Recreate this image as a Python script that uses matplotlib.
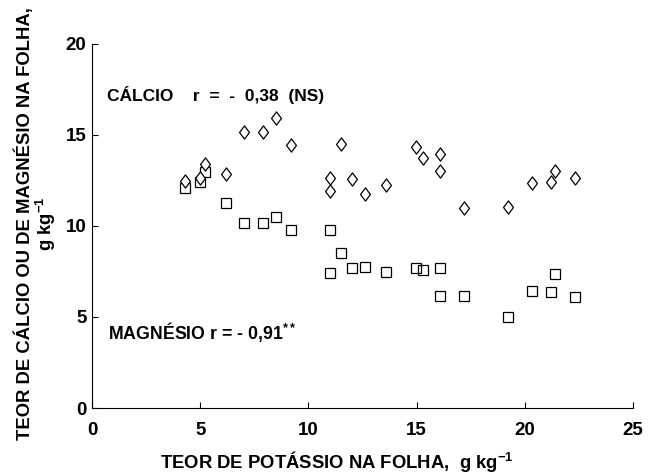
import matplotlib
matplotlib.use("Agg")
import matplotlib.pyplot as plt
from matplotlib.path import Path

# leaf potassium (x), calcium and magnesium (y), g/kg
potassio = [4.3, 5.0, 5.2, 6.2, 7.0, 7.9, 8.5, 9.2, 11.0, 11.0, 11.5, 12.0,
            12.6, 13.6, 14.95, 15.3, 16.1, 16.1, 17.2, 19.2, 20.35, 21.2, 21.4, 22.3]
calcio = [12.45, 12.6, 13.4, 12.85, 15.15, 15.15, 15.9, 14.45, 12.6, 11.9, 14.5, 12.55,
          11.75, 12.25, 14.3, 13.7, 13.95, 13.0, 11.0, 11.05, 12.35, 12.4, 13.0, 12.65]
magnesio_k = [4.3, 5.0, 5.2, 6.2, 7.0, 7.9, 8.5, 9.2, 11.0, 11.0, 11.5, 12.0,
              12.6, 13.6, 14.95, 15.3, 16.1, 16.1, 17.2, 19.2, 20.35, 21.2, 21.4, 22.3]
magnesio = [12.05, 12.4, 12.95, 11.25, 10.15, 10.15, 10.5, 9.75, 9.8, 7.4, 8.5, 7.7,
            7.75, 7.45, 7.7, 7.6, 7.7, 6.15, 6.15, 5.0, 6.45, 6.35, 7.35, 6.1]

xticks = [0, 5, 10, 15, 20, 25]
yticks = [0, 5, 10, 15, 20]

plt.rcParams['font.family'] = ['Liberation Sans', 'DejaVu Sans']
plt.rcParams['font.weight'] = 'bold'
plt.rcParams['mathtext.fontset'] = 'custom'
plt.rcParams['mathtext.rm'] = 'Liberation Sans:bold'
plt.rcParams['mathtext.it'] = 'Liberation Sans:bold'
plt.rcParams['mathtext.bf'] = 'Liberation Sans:bold'

diamond = Path([(0, 1), (0.75, 0), (0, -1), (-0.75, 0), (0, 1)],
               [Path.MOVETO, Path.LINETO, Path.LINETO, Path.LINETO, Path.CLOSEPOLY])

fig = plt.figure(figsize=(6.48, 4.74), dpi=100)
ax = fig.add_axes([0.142, 0.139, 0.835, 0.769])

ax.plot(potassio, calcio, linestyle='none', marker=diamond, markersize=9.5,
        markerfacecolor='white', markeredgecolor='black', markeredgewidth=0.9, zorder=3)
ax.plot(magnesio_k, magnesio, linestyle='none', marker='s', markersize=7.5,
        markerfacecolor='none', markeredgecolor='black', markeredgewidth=0.9, zorder=2)

ax.set_xlim(0, 25)
ax.set_ylim(0, 20)
ax.set_xticks(xticks)
ax.set_yticks(yticks)
ax.tick_params(direction='in', length=4, width=0.8, labelsize=13.5)
ax.tick_params(axis='x', pad=10)
ax.tick_params(axis='y', pad=4)
for lab in ax.get_xticklabels() + ax.get_yticklabels():
    lab.set_fontweight('bold')
ax.spines['top'].set_visible(False)
ax.spines['right'].set_visible(False)
ax.spines['left'].set_linewidth(0.8)
ax.spines['bottom'].set_linewidth(0.8)

ax.text(0.7, 17.2, 'CÁLCIO    r  =  -  0,38  (NS)', fontsize=12.5, fontweight='bold', va='center')
ax.text(0.75, 4.2, 'MAGNÉSIO r = - 0,91$^{**}$', fontsize=12.8, fontweight='bold', va='center')

# axis titles placed in figure coordinates, as in the original layout
fig.text(160 / 648, 1 - 461 / 474, 'TEOR DE POTÁSSIO NA FOLHA,  g kg$^{-1}$',
         fontsize=13.3, fontweight='bold', ha='left', va='center')
fig.text(36 / 648, 1 - 224 / 474, 'TEOR DE CÁLCIO OU DE MAGNÉSIO NA FOLHA,\ng kg$^{-1}$',
         fontsize=13.3, fontweight='bold', rotation=90, ha='center', va='center',
         multialignment='center', linespacing=1.0)

fig.savefig('out.png', dpi=100)
